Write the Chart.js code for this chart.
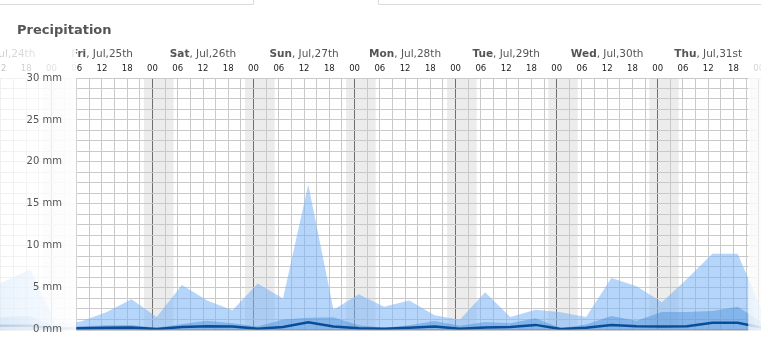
<!DOCTYPE html>
<html>
<head>
<meta charset="utf-8">
<script src="https://cdn.jsdelivr.net/npm/chart.js@4/dist/chart.umd.min.js"></script>
<style>
  html, body { margin: 0; padding: 0; background: #fff; }
  #wrap { width: 761px; height: 341px; position: relative; }
  canvas { display: block; }
</style>
</head>
<body>
<div id="wrap"><canvas id="c" width="761" height="341"></canvas></div>
<script>
// ---- data ----
const times = [
  '07-24 07:00','07-24 13:00','07-24 19:00',
  '07-25 01:00','07-25 07:00','07-25 13:00','07-25 19:00',
  '07-26 01:00','07-26 07:00','07-26 13:00','07-26 19:00',
  '07-27 01:00','07-27 07:00','07-27 13:00','07-27 19:00',
  '07-28 01:00','07-28 07:00','07-28 13:00','07-28 19:00',
  '07-29 01:00','07-29 07:00','07-29 13:00','07-29 19:00',
  '07-30 01:00','07-30 07:00','07-30 13:00','07-30 19:00',
  '07-31 01:00','07-31 07:00','07-31 13:00','07-31 19:00',
  '08-01 01:00'
];
const precipHigh = [4.6,5.8,7.2, 0.7,0.95,2.05,3.6, 1.5,5.3,3.45,2.3, 5.5,3.7,17.3,2.35,
  4.2,2.7,3.45,1.7, 1.15,4.45,1.5,2.35, 2.05,1.5,6.15,5.15, 3.25,6.05,9.05,9.05, 2.0];
const precipMid = [1.3,1.5,1.6, 0.3,0.4,0.5,0.55, 0.2,0.65,1.05,0.75, 0.35,1.2,1.4,1.45,
  0.5,0.2,0.5,1.0, 0.45,0.9,0.75,1.35, 0.15,0.6,1.6,1.05, 2.1,2.1,2.2,2.7, 0.8];
const precipMain = [0.4,0.45,0.45, 0.1,0.15,0.2,0.25, 0.05,0.3,0.4,0.35, 0.1,0.3,0.85,0.35,
  0.15,0.1,0.2,0.35, 0.1,0.25,0.3,0.55, 0.05,0.2,0.55,0.4, 0.35,0.4,0.8,0.8, 0.2];
const dayNames = ['Thu','Fri','Sat','Sun','Mon','Tue','Wed','Thu'];
const dayDates = ['Jul,24th','Jul,25th','Jul,26th','Jul,27th','Jul,28th','Jul,29th','Jul,30th','Jul,31st'];
const hourLabels = ['00','06','12','18'];
const yUnit = ' mm';
const title = 'Precipitation';

// hours relative to Jul 25 00:00
function toHours(s) {
  const [md, hm] = s.split(' ');
  const [mo, d] = md.split('-').map(Number);
  const h = Number(hm.split(':')[0]);
  return (Date.UTC(2025, mo - 1, d, h) - Date.UTC(2025, 6, 25, 0)) / 3600000;
}
const xs = times.map(toHours);
const pts = arr => arr.map((v, i) => ({x: xs[i], y: v}));

const FONT = '"DejaVu Sans", Verdana, sans-serif';
const X_MIN = -12.22, X_MAX = 168.54;
const CRISP_FROM = 6, CRISP_TO = 165.5;

const decor = {
  id: 'decor',
  beforeDraw(chart) {
    const {ctx, chartArea: a, scales: {x}} = chart;
    ctx.save();
    ctx.fillStyle = '#fff';
    ctx.fillRect(0, 0, chart.width, chart.height);
    // night shading 22:00 - 05:00
    ctx.fillStyle = '#ececec';
    for (let d = -1; d <= 7; d++) {
      const x0 = x.getPixelForValue(d * 24 - 2), x1 = x.getPixelForValue(d * 24 + 5);
      const l = Math.max(x0, a.left), r = Math.min(x1, a.right);
      if (r > l) ctx.fillRect(l, a.top, r - l, a.bottom - a.top);
    }
    ctx.restore();
  },
  afterDraw(chart) {
    const {ctx, chartArea: a, scales: {x, y}} = chart;
    ctx.save();
    // top labels: hours
    ctx.font = '8.5px ' + FONT;
    ctx.fillStyle = '#222';
    ctx.textAlign = 'center';
    ctx.textBaseline = 'alphabetic';
    for (let h = -24; h <= 192; h += 6) {
      const px = x.getPixelForValue(h);
      if (px < -20 || px > chart.width + 20) continue;
      const idx = (((h % 24) + 24) % 24) / 6;
      ctx.fillText(hourLabels[idx], px, 71);
    }
    // top labels: days
    ctx.textAlign = 'left';
    dayNames.forEach((nm, i) => {
      const cx = x.getPixelForValue((i - 1) * 24 + 12);
      const rest = ', ' + dayDates[i];
      ctx.font = 'bold 10.5px ' + FONT;
      const w1 = ctx.measureText(nm).width;
      ctx.font = '10.5px ' + FONT;
      const w2 = ctx.measureText(rest).width;
      const sx = cx - (w1 + w2) / 2;
      ctx.fillStyle = '#555';
      ctx.font = 'bold 10.5px ' + FONT;
      ctx.fillText(nm, sx, 57);
      ctx.font = '10.5px ' + FONT;
      ctx.fillText(rest, sx + w1, 57);
    });
    // fades outside the forecast window
    const lx = x.getPixelForValue(CRISP_FROM) - 0.5;
    let g = ctx.createLinearGradient(0, 0, lx, 0);
    g.addColorStop(0, 'rgba(255,255,255,0.72)');
    g.addColorStop(1, 'rgba(255,255,255,0.93)');
    ctx.fillStyle = g;
    ctx.fillRect(0, 40, lx, chart.height - 40);
    const rx = x.getPixelForValue(CRISP_TO);
    g = ctx.createLinearGradient(rx, 0, chart.width, 0);
    g.addColorStop(0, 'rgba(255,255,255,0.72)');
    g.addColorStop(1, 'rgba(255,255,255,0.85)');
    ctx.fillStyle = g;
    ctx.fillRect(rx, 40, chart.width - rx, chart.height - 40);
    // y labels
    ctx.font = '10px ' + FONT;
    ctx.fillStyle = '#555';
    ctx.textAlign = 'right';
    ctx.textBaseline = 'middle';
    y.ticks.forEach(t => {
      if (Math.abs(t.value % 5) < 1e-6) ctx.fillText(t.value + yUnit, 62, y.getPixelForValue(t.value));
    });
    // title
    ctx.font = 'bold 13px ' + FONT;
    ctx.fillStyle = '#555';
    ctx.textAlign = 'left';
    ctx.textBaseline = 'alphabetic';
    ctx.fillText(title, 17, 34);
    // tab border lines at top
    ctx.strokeStyle = '#dcdcdc';
    ctx.lineWidth = 1;
    ctx.beginPath();
    ctx.moveTo(0, 4.5); ctx.lineTo(253.5, 4.5); ctx.lineTo(253.5, 0);
    ctx.moveTo(378.5, 0); ctx.lineTo(378.5, 4.5); ctx.lineTo(761, 4.5);
    ctx.stroke();
    ctx.restore();
  }
};

new Chart(document.getElementById('c'), {
  type: 'line',
  data: {
    datasets: [
      { data: pts(precipMain), borderColor: '#0b4c96', borderWidth: 2.5, fill: false,
        pointRadius: 0, tension: 0, order: 0 },
      { data: pts(precipMid), borderWidth: 0, borderColor: 'rgba(0,0,0,0)',
        backgroundColor: 'rgba(70,140,215,0.45)', fill: 'origin', pointRadius: 0, tension: 0, order: 1 },
      { data: pts(precipHigh), borderWidth: 0, borderColor: 'rgba(0,0,0,0)',
        backgroundColor: 'rgba(120,180,245,0.55)', fill: 'origin', pointRadius: 0, tension: 0, order: 2 }
    ]
  },
  options: {
    responsive: false,
    animation: false,
    devicePixelRatio: 1,
    layout: { padding: { top: 78, bottom: 11.5, left: 0, right: 0 } },
    plugins: { legend: { display: false }, tooltip: { enabled: false }, title: { display: false } },
    scales: {
      x: {
        type: 'linear', min: X_MIN, max: X_MAX,
        afterBuildTicks(scale) {
          const t = [];
          for (let h = Math.ceil(X_MIN / 3) * 3; h <= X_MAX; h += 3) t.push({value: h});
          scale.ticks = t;
        },
        ticks: { display: false },
        border: { display: false },
        grid: {
          drawTicks: false,
          color: c => (c.tick && ((c.tick.value % 24) + 24) % 24 === 0) ? '#6f6f6f' : '#c9c9c9',
          lineWidth: 1
        }
      },
      y: {
        min: 0, max: 30,
        ticks: { display: false, stepSize: 1.25 },
        border: { display: false },
        grid: {
          drawTicks: false,
          color: c => (c.tick && c.tick.value === 0) ? '#9a9a9a' : '#c9c9c9',
          lineWidth: c => (c.tick && c.tick.value === 0) ? 1.5 : 1
        }
      }
    }
  },
  plugins: [decor]
});
</script>
</body>
</html>
